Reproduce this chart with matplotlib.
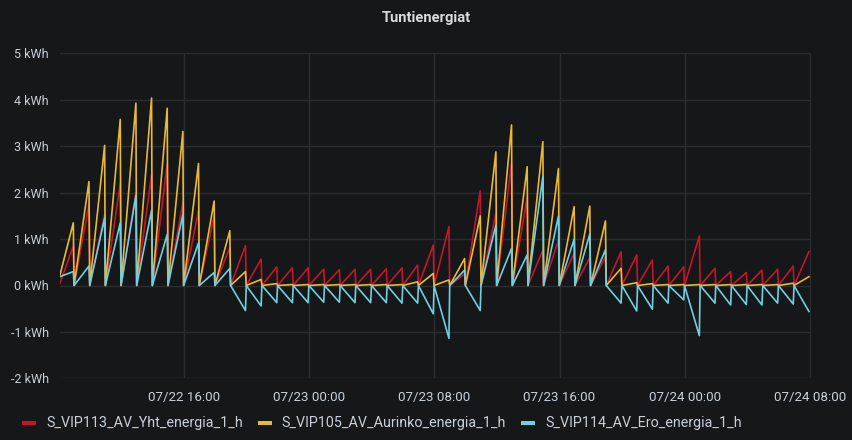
import numpy as np
import pandas as pd
import matplotlib
matplotlib.use("Agg")
import matplotlib.pyplot as plt
import matplotlib.dates as mdates
from matplotlib.patches import Rectangle

plt.rcParams['font.family'] = ['Roboto', 'DejaVu Sans']

# ---------------- data ----------------
title = "Tuntienergiat"
series_names = ["S_VIP113_AV_Yht_energia_1_h",
                "S_VIP105_AV_Aurinko_energia_1_h",
                "S_VIP114_AV_Ero_energia_1_h"]

range_start = "2024-07-22 08:05"
range_end = "2024-07-24 08:04"
first_hour_end = "2024-07-22 09:00"   # first hourly counter end
n_hours = 48

# values at the very start of the range
start_yht = 0.05
start_aurinko = 0.23
start_ero = 0.19

# value the hourly counters restart from
reset_value = 0.0

# hourly end-of-hour (peak) values, kWh: 07/22 09:00 ... 07/24 08:00
yht_peak = [0.85, 1.75, 1.53, 2.20, 2.00, 2.39, 2.62, 1.78, 1.62, 1.50, 0.82, 0.86,
            0.57, 0.40, 0.38, 0.38, 0.35, 0.34, 0.35, 0.35, 0.36, 0.38, 0.44, 0.87,
            1.27, 0.25, 2.04, 1.55, 2.63, 1.90, 0.76, 0.98, 0.70, 0.60, 0.62, 0.73,
            0.66, 0.55, 0.42, 0.40, 1.07, 0.37, 0.30, 0.28, 0.33, 0.35, 0.42, 0.73]
aurinko_peak = [1.35, 2.24, 3.02, 3.58, 3.93, 4.04, 3.82, 3.32, 2.63, 1.82, 1.18, 0.30,
                0.13, 0.04, 0.02, 0.02, 0.02, 0.02, 0.02, 0.02, 0.02, 0.02, 0.08, 0.26,
                0.12, 0.58, 1.50, 2.88, 3.46, 2.56, 3.10, 2.52, 1.70, 1.71, 1.39, 0.37,
                0.06, 0.04, 0.02, 0.02, 0.02, 0.02, 0.02, 0.02, 0.02, 0.02, 0.05, 0.19]
ero_peak = [0.30, 0.42, 1.45, 1.35, 1.94, 1.62, 1.10, 1.53, 0.92, 0.28, 0.37, -0.54,
            -0.44, -0.37, -0.37, -0.37, -0.36, -0.36, -0.37, -0.37, -0.37, -0.38, -0.38, -0.61,
            -1.14, 0.33, -0.54, 1.30, 0.80, 0.66, 2.35, 1.50, 1.00, 1.11, 0.77, -0.38,
            -0.55, -0.51, -0.38, -0.31, -1.08, -0.38, -0.42, -0.41, -0.42, -0.38, -0.40, -0.56]

y_ticks = [-2, -1, 0, 1, 2, 3, 4, 5]
y_tick_labels = [f"{v} kWh" for v in y_ticks]
x_ticks = ["2024-07-22 16:00", "2024-07-23 00:00", "2024-07-23 08:00",
           "2024-07-23 16:00", "2024-07-24 00:00", "2024-07-24 08:00"]

colors = ["#C4162A", "#EAB839", "#6ED0E0"]

# ---------------- build series ----------------
hour_ends = pd.date_range(first_hour_end, periods=n_hours, freq="h")
peak_offset = pd.Timedelta(minutes=4)
reset_offset = pd.Timedelta(minutes=1)


def build(start_val, peaks):
    times = [pd.Timestamp(range_start)]
    vals = [start_val]
    for i, (he, pv) in enumerate(zip(hour_ends, peaks)):
        times.append(he - peak_offset)
        vals.append(pv)
        if i < len(peaks) - 1:
            times.append(he - reset_offset)
            vals.append(reset_value)
    return pd.to_datetime(times), np.array(vals)


series = [build(start_yht, yht_peak),
          build(start_aurinko, aurinko_peak),
          build(start_ero, ero_peak)]

# ---------------- plot ----------------
bg = "#161719"
grid_c = "#2c2d30"
text_c = "#c7d0d9"
W, H = 853, 440

fig = plt.figure(figsize=(W / 100, H / 100), dpi=100, facecolor=bg)
ax = fig.add_axes([60 / W, 1 - 378.3 / H, (811 - 60) / W, (378.3 - 53.5) / H])
ax.set_facecolor(bg)

for (t, v), c in zip(series, colors):
    ax.plot(t, v, color=c, lw=1.2, solid_joinstyle="round")

ax.set_ylim(-2, 5)
ax.set_xlim(pd.Timestamp(range_start), pd.Timestamp(range_end))
ax.set_yticks(y_ticks)
ax.set_yticklabels(y_tick_labels)
ax.set_xticks(pd.to_datetime(x_ticks))
ax.xaxis.set_major_formatter(mdates.DateFormatter("%m/%d %H:%M"))

ax.grid(True, color=grid_c, lw=1)
ax.set_axisbelow(True)
for s in ax.spines.values():
    s.set_visible(False)
ax.tick_params(axis="y", length=0, colors=text_c, labelsize=9.0, pad=8)
ax.tick_params(axis="x", length=0, colors=text_c, labelsize=9.6, pad=9)

fig.text(0.5, 1 - 18 / H, title, ha="center", va="center",
         color="#d8d9da", fontsize=10.6, fontweight="bold")

# legend, laid out sequentially like Grafana
renderer = fig.canvas.get_renderer()
x_px = 22
for name, c in zip(series_names, colors):
    fig.add_artist(Rectangle((x_px / W, 1 - 425 / H), 14 / W, 4 / H,
                             transform=fig.transFigure, color=c, lw=0))
    txt = fig.text((x_px + 24) / W, 1 - 423 / H, name, ha="left", va="center",
                   color=text_c, fontsize=10.3)
    bb = txt.get_window_extent(renderer=renderer)
    x_px = bb.x1 + 15

fig.savefig("out.png", dpi=100, facecolor=bg)
